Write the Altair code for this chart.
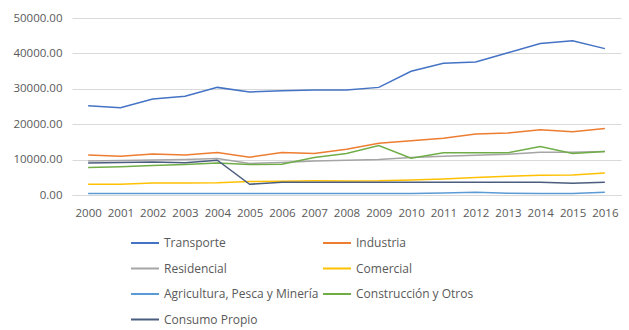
import altair as alt
import pandas as pd

years = [str(y) for y in range(2000, 2017)]
series_names = ["Transporte", "Industria", "Residencial", "Comercial",
                "Agricultura, Pesca y Minería", "Construcción y Otros", "Consumo Propio"]
transporte = [25200, 24650, 27100, 27900, 30400, 29100, 29460, 29650, 29650, 30400,
              34950, 37200, 37600, 40200, 42800, 43600, 41350]
industria = [11330, 10960, 11600, 11330, 12000, 10680, 12000, 11700, 12950, 14650,
             15300, 16060, 17200, 17480, 18400, 17850, 18800]
residencial = [9630, 9750, 9900, 10000, 10300, 8900, 9200, 9600, 9800, 10020,
               10600, 10950, 11250, 11530, 12100, 12100, 12300]
comercial = [3030, 3030, 3400, 3400, 3450, 3780, 3900, 4000, 3970, 4000,
             4250, 4530, 4920, 5300, 5580, 5650, 6230]
agricultura = [450, 450, 450, 450, 450, 450, 450, 450, 450, 450,
               450, 550, 760, 500, 450, 450, 760]
construccion = [7760, 8000, 8300, 8600, 9070, 8600, 8700, 10600, 11700, 14000,
                10400, 11900, 11900, 11900, 13700, 11700, 12300]
consumo = [9070, 9200, 9300, 9100, 9830, 3030, 3600, 3600, 3600, 3600,
           3600, 3600, 3600, 3600, 3600, 3300, 3600]
colors = ["#4472C4", "#ED7D31", "#A5A5A5", "#FFC000", "#5B9BD5", "#70AD47", "#4B5D7E"]
y_ticks = [0, 10000, 20000, 30000, 40000, 50000]

all_series = [transporte, industria, residencial, comercial, agricultura, construccion, consumo]
rows = []
for name, vals in zip(series_names, all_series):
    for yr, v in zip(years, vals):
        rows.append({"Año": yr, "Serie": name, "Valor": v})
df = pd.DataFrame(rows)

font = "Open Sans"
chart = alt.Chart(df).mark_line(strokeWidth=1.5).encode(
    x=alt.X("Año:O", scale=alt.Scale(type="point", padding=0.5),
            axis=alt.Axis(title=None, labelAngle=0, ticks=False, domain=True,
                          domainColor="#D9D9D9", labelColor="#595959",
                          labelFontSize=11.5, labelFont=font, labelPadding=12, grid=False)),
    y=alt.Y("Valor:Q", scale=alt.Scale(domain=[0, 50000], nice=False),
            axis=alt.Axis(title=None, values=y_ticks, format=".2f", ticks=False, domain=False,
                          gridColor="#D9D9D9", labelColor="#595959", labelFontSize=11.5,
                          labelFont=font, labelPadding=10)),
    color=alt.Color("Serie:N", sort=series_names,
                    scale=alt.Scale(domain=series_names, range=colors),
                    legend=alt.Legend(title=None, orient="none", legendX=58, legendY=210,
                                      direction="horizontal",
                                      columns=2, symbolType="stroke", symbolSize=784,
                                      symbolStrokeWidth=2, labelFont=font, labelFontSize=12,
                                      labelColor="#595959", labelOffset=4, rowPadding=4.5,
                                      columnPadding=0, labelLimit=300)),
    order=alt.Order("Serie:N"),
).properties(
    width=549, height=177,
    autosize=alt.AutoSizeParams(type="none"),
    padding={"left": 72, "top": 18, "right": 8, "bottom": 135},
).configure_view(stroke=None)

chart.save("out.html", embed_options={"renderer": "svg", "actions": False})
